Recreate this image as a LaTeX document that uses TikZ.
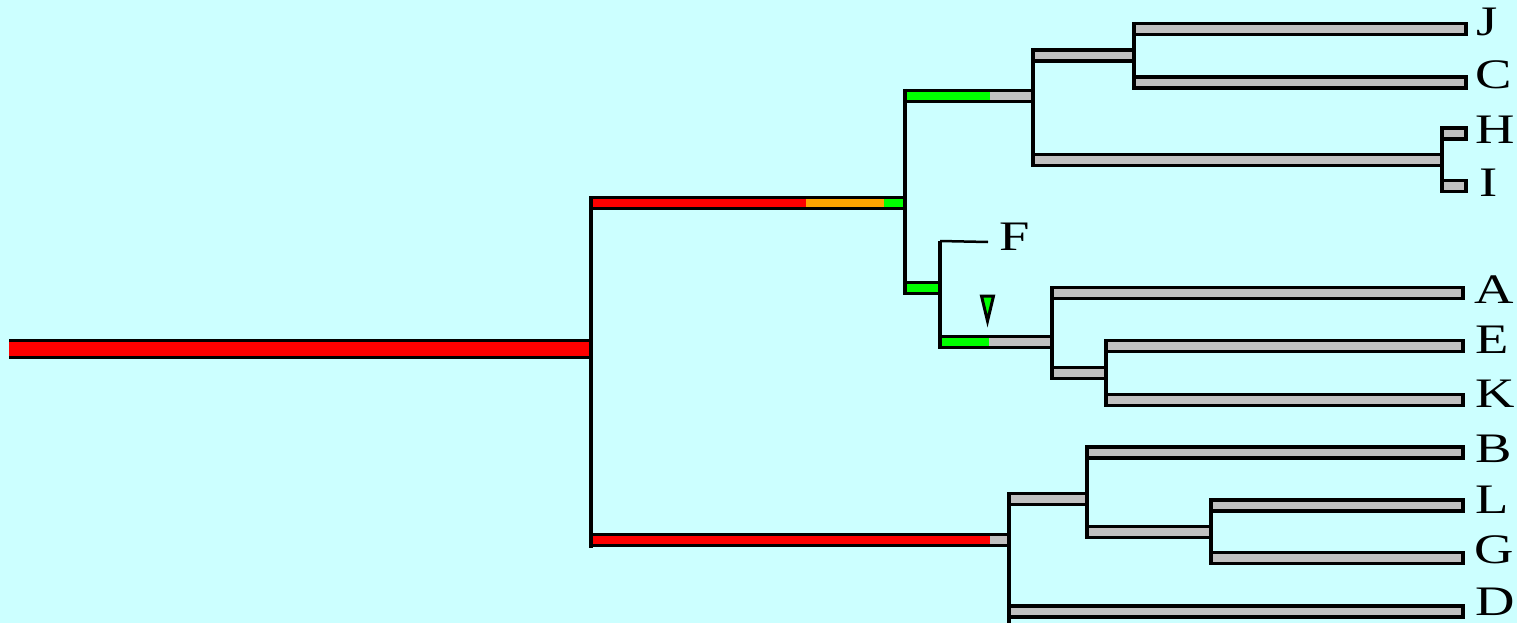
\documentclass[tikz,border=0pt]{standalone}
\usepackage{graphicx}
\usepackage{fontspec}
\setmainfont{Liberation Serif}
\definecolor{bgc}{HTML}{CCFFFF}
\definecolor{brgray}{HTML}{C0C0C0}
\definecolor{brred}{HTML}{FF0000}
\definecolor{brorange}{HTML}{FFA500}
\definecolor{brgreen}{HTML}{00FF00}
\newcommand\wide[1]{\scalebox{1.3}[1]{#1}}
% fill segment of a branch bar: x1, x2, y, colour
\newcommand\brseg[4]{\fill[#4] (#1,#3-5.5) rectangle (#2,#3+5.5);}
% outline of a branch bar: x1, x2, y
\newcommand\brout[3]{\draw[outl] (#1,#3-5.5) rectangle (#2,#3+5.5);}
% plain one-colour branch
\newcommand\brplain[4]{\brseg{#1}{#2}{#3}{#4}\brout{#1}{#2}{#3}}
\begin{document}
\begin{tikzpicture}[x=1pt,y=-1pt,
  outl/.style={draw=black,line width=3.2pt,line join=miter},
  vline/.style={draw=black,line width=3.2pt},
  lab/.style={anchor=base west,inner sep=0pt,font=\fontsize{42}{42}\selectfont}]
\useasboundingbox (0,0) rectangle (1517,623);
\fill[bgc] (0,0) rectangle (1517,623);

% tree node coordinates (top and bottom of each vertical)
\coordinate (n1t) at (591,196);  \coordinate (n1b) at (591,548);
\coordinate (n2t) at (905,89);   \coordinate (n2b) at (905,295);
\coordinate (n3t) at (1033,48);  \coordinate (n3b) at (1033,167);
\coordinate (n4t) at (1134,22);  \coordinate (n4b) at (1134,89);
\coordinate (n5t) at (1442,127); \coordinate (n5b) at (1442,193);
\coordinate (n6t) at (940,241);  \coordinate (n6b) at (940,348);
\coordinate (n7t) at (1052,286); \coordinate (n7b) at (1052,380);
\coordinate (n8t) at (1106,339); \coordinate (n8b) at (1106,407);
\coordinate (n9t) at (1009,492); \coordinate (n9b) at (1009,623);
\coordinate (n10t) at (1087,446); \coordinate (n10b) at (1087,539);
\coordinate (n11t) at (1211,499); \coordinate (n11b) at (1211,565);

% root branch
\fill[brred] (9,339) rectangle (591,359);
\draw[line width=3.2pt] (9,340.5) -- (591,340.5) (9,357.5) -- (591,357.5);

% upper main branch
\brseg{591}{806}{203}{brred}\brseg{806}{884}{203}{brorange}\brseg{884}{905}{203}{brgreen}
\brout{591}{905}{203}
% to n3
\brseg{905}{990}{96}{brgreen}\brseg{990}{1033}{96}{brgray}\brout{905}{1033}{96}
\brplain{1033}{1134}{55.5}{brgray}
\brplain{1134}{1466}{29}{brgray}
\brplain{1134}{1466}{82.5}{brgray}
\brplain{1033}{1442}{160}{brgray}
\brplain{1442}{1466}{133.5}{brgray}
\brplain{1442}{1466}{186}{brgray}
% to n6
\brplain{905}{940}{288}{brgreen}
\coordinate (fend) at (988,242);
\draw[line width=2.5pt] (n6t) -- (fend);
\brseg{940}{989}{342}{brgreen}\brseg{989}{1052}{342}{brgray}\brout{940}{1052}{342}
\brplain{1052}{1463}{293}{brgray}
\brplain{1052}{1106}{373}{brgray}
\brplain{1106}{1463}{346}{brgray}
\brplain{1106}{1463}{400}{brgray}

% lower main branch
\brseg{591}{990}{540}{brred}\brseg{990}{1009}{540}{brgray}\brout{591}{1009}{540}
\brplain{1009}{1087}{499}{brgray}
\brplain{1087}{1463}{452.5}{brgray}
\brplain{1087}{1211}{532}{brgray}
\brplain{1211}{1463}{505.5}{brgray}
\brplain{1211}{1463}{558}{brgray}
\brplain{1009}{1463}{611.5}{brgray}

% verticals
\foreach \n in {n1,n2,n3,n4,n5,n6,n7,n8,n9,n10,n11}
  \draw[vline] (\n t) -- (\n b);

% marker
\filldraw[fill=brgreen,draw=black,line width=3pt,line join=miter]
  (981.5,296) -- (993.5,296) -- (987.5,321) -- cycle;

% labels
\node[lab] (J) at (1476,36) {\wide{J}};
\node[lab] (C) at (1475,89) {\wide{C}};
\node[lab] (H) at (1475,143) {\wide{H}};
\node[lab] (I) at (1479,196) {\wide{I}};
\node[lab] (F) at (999,250) {\wide{F}};
\node[lab] (A) at (1474,303) {\wide{A}};
\node[lab] (E) at (1475,353) {\wide{E}};
\node[lab] (K) at (1475,407) {\wide{K}};
\node[lab] (B) at (1475,462) {\wide{B}};
\node[lab] (L) at (1475,513) {\wide{L}};
\node[lab] (G) at (1474,563) {\wide{G}};
\node[lab] (D) at (1475,615) {\wide{D}};
\end{tikzpicture}
\end{document}
